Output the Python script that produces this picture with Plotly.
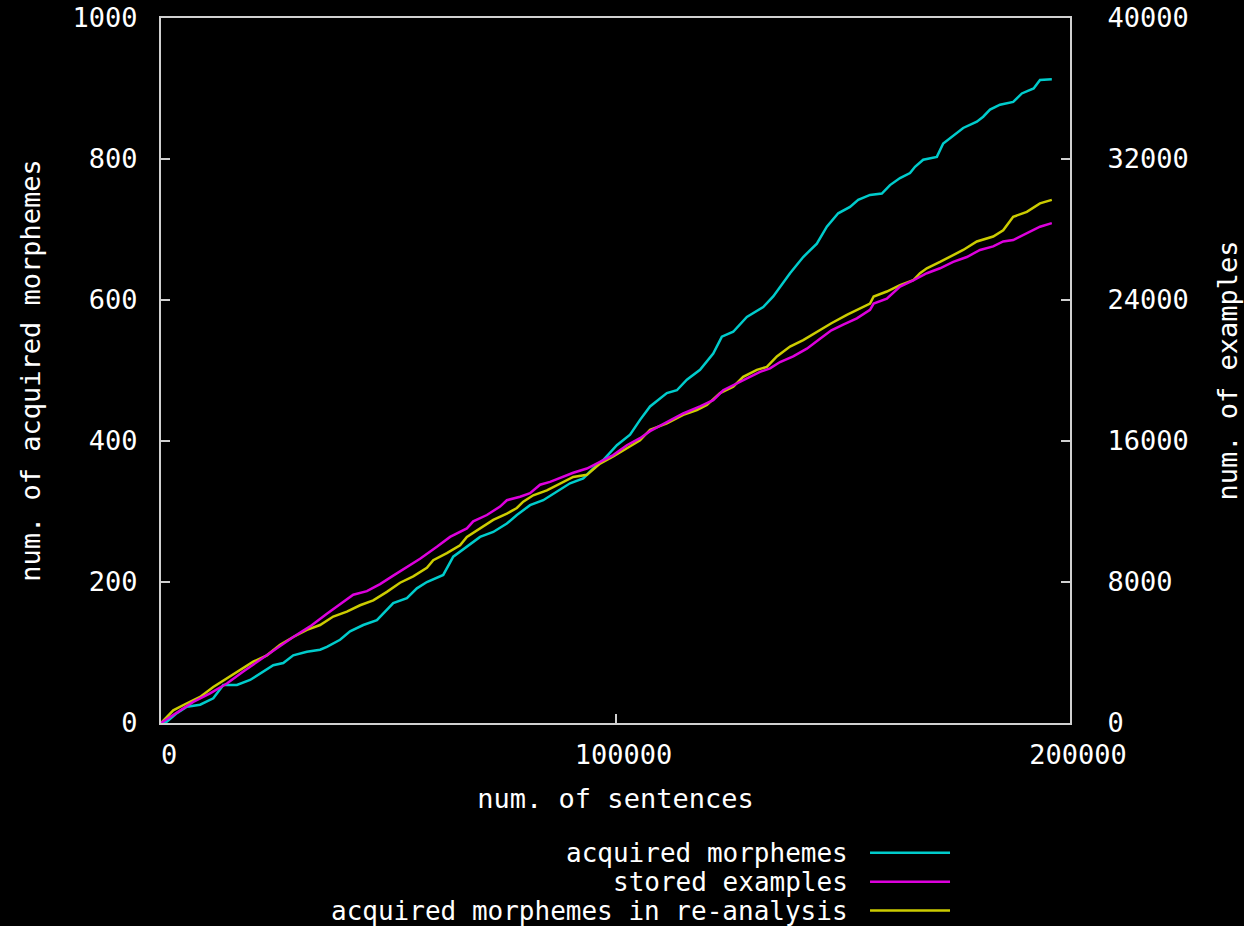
import plotly.graph_objects as go

# ---- data ----
# acquired morphemes (left axis)
morph_x_k = [0, 1.3, 3.5, 5.7, 8.6, 11.5, 13.7, 16.7, 19.6, 21.8, 24.7, 26.9, 29.1, 32.1, 35, 36.5,
             39.4, 41.6, 44.5, 47.5, 51.1, 54.1, 56.3, 58.5, 62.1, 64.3, 67.3, 70.2, 73.1, 76.1, 78.3,
             81.2, 84.1, 87.1, 90, 92.9, 95.1, 97.3, 100.3, 103.2, 105.4, 107.6, 111.3, 113.5, 115.7,
             118.6, 121.5, 123.4, 125.9, 128.9, 132.5, 134.7, 138.4, 141.3, 144.3, 146.5, 149, 151.6,
             153.4, 156, 158.6, 160.4, 162.6, 164.8, 165.9, 167.7, 170.7, 172.1, 174, 176.5, 179.5,
             180.9, 182.4, 184.6, 187.5, 189.4, 192, 193.4, 196]
morph_y = [0, 2, 14, 23, 26, 35, 54, 54, 61, 70, 82, 85, 96, 101, 104, 108, 118, 130, 139, 146, 170,
           177, 191, 200, 210, 236, 250, 264, 271, 283, 295, 309, 316, 328, 340, 347, 361, 373, 394,
           409, 430, 449, 468, 472, 487, 501, 524, 548, 555, 576, 590, 605, 638, 661, 680, 704, 723,
           732, 742, 749, 751, 763, 773, 780, 789, 799, 803, 822, 832, 844, 853, 860, 870, 877, 881,
           893, 900, 912, 913]

# stored examples (right axis)
stored_x_k = [0, 4.2, 7.1, 10.8, 14.5, 18.1, 21.8, 25.5, 29.1, 32.8, 36.5, 39.4, 42.3, 45.3, 48.2,
              51.1, 54.1, 57, 60.7, 63.6, 67.3, 68.7, 71.7, 74.6, 76.1, 79, 81.2, 83.4, 85.6, 88.5,
              90.7, 93.7, 96.6, 99.5, 102.5, 105.4, 107.6, 111.3, 114.9, 118.6, 121.5, 123.7, 127.4,
              129.6, 131.8, 134, 136.2, 139.1, 142.1, 145, 147.5, 150.1, 153.1, 156, 156.8, 159.7,
              162.6, 165.5, 168.5, 171.4, 174.3, 177.3, 180.2, 183.1, 185.3, 187.5, 190.5, 193.4, 196]
stored_y = [0, 720, 1200, 1680, 2240, 2920, 3560, 4240, 4880, 5480, 6200, 6720, 7280, 7480, 7880,
            8360, 8840, 9320, 10000, 10560, 11040, 11440, 11800, 12280, 12640, 12840, 13040, 13520,
            13680, 13960, 14200, 14440, 14840, 15200, 15760, 16160, 16560, 17080, 17560, 17960,
            18320, 18880, 19360, 19640, 19920, 20120, 20480, 20800, 21240, 21800, 22280, 22600,
            22960, 23440, 23800, 24080, 24760, 25120, 25520, 25800, 26160, 26440, 26840, 27040,
            27320, 27400, 27800, 28160, 28360]

# acquired morphemes in re-analysis (left axis)
rean_x_k = [0, 2.7, 5.7, 8.6, 11.5, 14.5, 17.4, 20.3, 23.3, 26.2, 29.1, 32.1, 35, 37.9, 40.9, 43.8,
            46.7, 49.7, 52.6, 55.5, 58.5, 59.9, 62.9, 65.8, 67.3, 70.2, 73.1, 76.1, 78.3, 79.7, 81.9,
            84.9, 87.8, 90.7, 93.7, 96.6, 99.5, 102.5, 105.4, 107.6, 111.3, 114.9, 117.9, 120.1, 123,
            125.9, 128.1, 131.1, 133.3, 135.5, 138.4, 141.3, 144.3, 147.5, 150.9, 153.8, 156, 156.8,
            159.7, 162.6, 165.5, 167, 168.5, 171.4, 174.3, 176.5, 179.5, 183.1, 185.3, 187.5, 190.5,
            193.4, 196]
rean_y = [0, 18, 28, 37, 51, 63, 75, 87, 96, 111, 122, 132, 139, 151, 158, 167, 174, 186, 199, 208,
          220, 231, 241, 252, 264, 276, 288, 297, 305, 314, 323, 330, 340, 349, 352, 368, 378, 390,
          401, 416, 425, 437, 444, 451, 468, 477, 491, 501, 505, 520, 534, 543, 555, 567, 579, 588,
          595, 605, 612, 621, 628, 638, 645, 654, 664, 671, 683, 690, 699, 718, 725, 737, 742]

series_names = ["acquired morphemes", "stored examples", "acquired morphemes in re-analysis"]
series_colors = ["#00cccc", "#dd00dd", "#cccc00"]

x_ticks = [0, 100000, 200000]
x_tick_labels = ["0", "100000", "200000"]
y_ticks = [0, 200, 400, 600, 800, 1000]
y_tick_labels = ["0", "200", "400", "600", "800", "1000"]
y2_ticks = [0, 8000, 16000, 24000, 32000, 40000]
y2_tick_labels = ["0", "8000", "16000", "24000", "32000", "40000"]

FONT = "DejaVu Sans Mono"
FS = 27
LEG_FS = 26
FRAME = "#d0d0d0"
TXT = "#ffffff"

fig = go.Figure()
fig.add_trace(go.Scatter(x=[v * 1000 for v in morph_x_k], y=morph_y, mode="lines",
                         name=series_names[0], line=dict(color=series_colors[0], width=2.5)))
fig.add_trace(go.Scatter(x=[v * 1000 for v in stored_x_k], y=stored_y, mode="lines", yaxis="y2",
                         name=series_names[1], line=dict(color=series_colors[1], width=2.5)))
fig.add_trace(go.Scatter(x=[v * 1000 for v in rean_x_k], y=rean_y, mode="lines",
                         name=series_names[2], line=dict(color=series_colors[2], width=2.5)))

fig.update_layout(
    width=1244, height=926,
    paper_bgcolor="black", plot_bgcolor="black",
    margin=dict(l=161, r=174, t=18, b=203, autoexpand=False),
    showlegend=False,
    font=dict(family=FONT, size=FS, color=TXT),
    xaxis=dict(range=[0, 200000], tickvals=x_ticks, ticktext=x_tick_labels, automargin=False,
               showgrid=False, zeroline=False, showline=True, linecolor=FRAME, linewidth=2,
               mirror=True, ticks="inside", ticklen=9, tickwidth=2, tickcolor=FRAME,
               ticklabelstandoff=7, ticklabelshift=8,
               title=dict(text="num. of sentences", standoff=20, font=dict(size=FS))),
    yaxis=dict(range=[0, 1000], tickvals=y_ticks, ticktext=y_tick_labels, automargin=False,
               showgrid=False, zeroline=False, showline=True, linecolor=FRAME, linewidth=2,
               mirror=True, ticks="inside", ticklen=9, tickwidth=2, tickcolor=FRAME,
               ticklabelstandoff=16,
               title=dict(text="num. of acquired morphemes", standoff=24, font=dict(size=FS))),
    yaxis2=dict(range=[0, 40000], tickvals=y2_ticks, ticktext=y2_tick_labels, automargin=False,
                overlaying="y", side="right",
                showgrid=False, zeroline=False, showline=True, linecolor=FRAME, linewidth=2,
                ticks="inside", ticklen=9, tickwidth=2, tickcolor=FRAME,
                ticklabelstandoff=30,
                title=dict(text="num. of examples", standoff=30, font=dict(size=FS))),
)

# legend drawn gnuplot-style: right-aligned text followed by line sample
legend_rows_y = [-0.184, -0.225, -0.266]
for name, color, yy in zip(series_names, series_colors, legend_rows_y):
    fig.add_annotation(xref="paper", yref="paper", x=0.758, y=yy, text=name,
                       showarrow=False, xanchor="right", yanchor="middle",
                       font=dict(family=FONT, size=LEG_FS, color=TXT))
    fig.add_shape(type="line", xref="paper", yref="paper", x0=0.780, x1=0.868, y0=yy, y1=yy,
                  line=dict(color=color, width=2.5))

fig.write_html("out.html", config={"displayModeBar": False},
               post_script="document.body.style.margin='0';document.body.style.background='black';"
                           "document.body.style.overflow='hidden';")
